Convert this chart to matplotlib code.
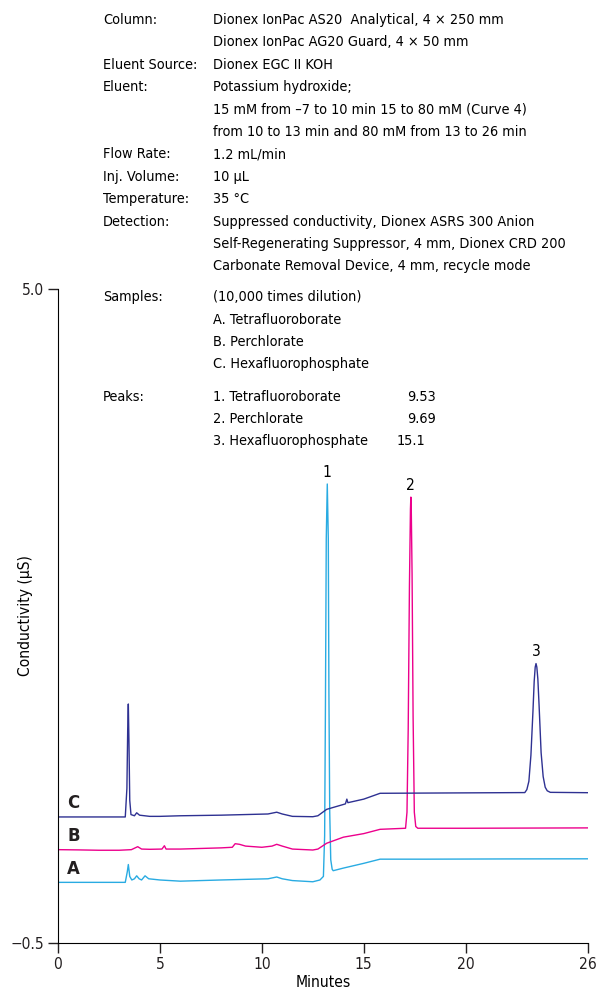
import matplotlib
matplotlib.use('Agg')
import matplotlib.pyplot as plt
from matplotlib import font_manager
from matplotlib.font_manager import FontProperties

# trace A (tetrafluoroborate), cyan
a_time = [0.0, 3.30, 3.40, 3.45, 3.52, 3.62, 3.75, 3.86, 3.98, 4.10, 4.27, 4.45,
          5.0, 6.0, 8.0, 10.3, 10.73, 11.0, 11.5, 12.5, 12.85, 13.02, 13.08,
          13.12, 13.16, 13.21, 13.26, 13.29, 13.33, 13.38, 13.45, 13.5, 14.0,
          15.0, 15.8, 18.0, 22.0, 26.0]
a_val = [0.01, 0.01, 0.10, 0.16, 0.06, 0.03, 0.04, 0.065, 0.04, 0.03, 0.065, 0.04,
         0.03, 0.02, 0.03, 0.04, 0.055, 0.04, 0.025, 0.015, 0.03, 0.06, 0.4,
         1.5, 2.9, 3.36, 2.9, 1.6, 0.6, 0.2, 0.12, 0.108, 0.13,
         0.17, 0.205, 0.205, 0.207, 0.208]

# trace B (perchlorate), magenta
b_time = [0.0, 1.0, 2.0, 3.0, 3.6, 3.91, 4.1, 4.5, 5.1, 5.22, 5.3, 6.0, 8.0,
          8.55, 8.69, 8.9, 9.2, 10.0, 10.5, 10.73, 11.0, 11.5, 12.5, 12.75,
          13.18, 14.0, 15.0, 15.8, 17.05, 17.12, 17.18, 17.24, 17.29, 17.31,
          17.33, 17.37, 17.42, 17.48, 17.55, 17.65, 20.0, 26.0]
b_val = [0.285, 0.283, 0.28, 0.28, 0.285, 0.31, 0.29, 0.288, 0.29, 0.318, 0.29,
         0.29, 0.30, 0.305, 0.335, 0.33, 0.315, 0.305, 0.315, 0.33, 0.315, 0.29,
         0.282, 0.29, 0.339, 0.39, 0.42, 0.456, 0.465, 0.6, 1.3, 2.5, 3.15, 3.25,
         3.15, 2.6, 1.4, 0.6, 0.48, 0.465, 0.465, 0.468]

# trace C (hexafluorophosphate), navy
c_time = [0.0, 3.30, 3.38, 3.42, 3.45, 3.48, 3.52, 3.58, 3.75, 3.86, 4.0, 4.5,
          5.0, 6.0, 8.0, 10.3, 10.73, 11.0, 11.5, 12.5, 12.75, 13.18, 14.1,
          14.17, 14.22, 15.0, 15.8, 22.9, 23.0, 23.1, 23.2, 23.3, 23.36, 23.41,
          23.45, 23.49, 23.54, 23.6, 23.7, 23.8, 23.9, 24.0, 24.15, 26.0]
c_val = [0.56, 0.56, 0.8, 1.3, 1.51, 1.2, 0.7, 0.58, 0.57, 0.595, 0.575, 0.565,
         0.565, 0.57, 0.575, 0.585, 0.6, 0.585, 0.565, 0.562, 0.57, 0.624, 0.67,
         0.71, 0.68, 0.71, 0.759, 0.765, 0.79, 0.86, 1.08, 1.45, 1.7, 1.82,
         1.85, 1.82, 1.72, 1.5, 1.1, 0.9, 0.81, 0.78, 0.767, 0.764]

peak_labels = ['1', '2', '3']
peak_pos = [(13.21, 3.36), (17.31, 3.25), (23.45, 1.85)]
trace_names = ['A', 'B', 'C']
trace_label_y = [0.12, 0.40, 0.68]

info_rows = [
    ('Column:', 'Dionex IonPac AS20  Analytical, 4 × 250 mm'),
    ('', 'Dionex IonPac AG20 Guard, 4 × 50 mm'),
    ('Eluent Source:', 'Dionex EGC II KOH'),
    ('Eluent:', 'Potassium hydroxide;'),
    ('', '15 mM from –7 to 10 min 15 to 80 mM (Curve 4)'),
    ('', 'from 10 to 13 min and 80 mM from 13 to 26 min'),
    ('Flow Rate:', '1.2 mL/min'),
    ('Inj. Volume:', '10 µL'),
    ('Temperature:', '35 °C'),
    ('Detection:', 'Suppressed conductivity, Dionex ASRS 300 Anion'),
    ('', 'Self-Regenerating Suppressor, 4 mm, Dionex CRD 200'),
    ('', 'Carbonate Removal Device, 4 mm, recycle mode'),
]
sample_rows = [
    ('Samples:', '(10,000 times dilution)', ''),
    ('', 'A. Tetrafluoroborate', ''),
    ('', 'B. Perchlorate', ''),
    ('', 'C. Hexafluorophosphate', ''),
    ('Peaks:', '1. Tetrafluoroborate', '9.53'),
    ('', '2. Perchlorate', '9.69'),
    ('', '3. Hexafluorophosphate', '15.1'),
]
sample_y_px = [297, 320, 342, 364, 397, 419, 441]
time_x_px = [0, 0, 0, 0, 407, 407, 397]


def find_narrow(bold=False):
    # look for any condensed / narrow face that happens to be installed
    for f in font_manager.fontManager.ttflist:
        narrow = ('Narrow' in f.name or 'Condensed' in f.name
                  or f.stretch in ('condensed', 'semi-condensed', 'extra-condensed'))
        if not narrow or f.style != 'normal':
            continue
        w = f.weight if isinstance(f.weight, int) else (700 if f.weight == 'bold' else 400)
        if (w >= 600) == bold:
            return f.fname
    return None


def main():
    reg = find_narrow(False)
    bld = find_narrow(True)
    if reg:
        base = 10.4
        fp = lambda s=base: FontProperties(fname=reg, size=s)
        fpb = lambda s: FontProperties(fname=bld, size=s) if bld else \
            FontProperties(fname=reg, size=s, weight='bold')
    else:
        base = 9.6
        fp = lambda s=base: FontProperties(family=['Roboto', 'DejaVu Sans'], size=s)
        fpb = lambda s: FontProperties(family=['Roboto', 'DejaVu Sans'], size=s,
                                       weight='bold')

    W, H = 610, 998
    fig = plt.figure(figsize=(W / 100, H / 100), dpi=100)
    ax = fig.add_axes([58 / W, 1 - 943 / H, 530 / W, 654 / H])

    ax.plot(a_time, a_val, color='#29abe2', lw=1.0)
    ax.plot(b_time, b_val, color='#ec008c', lw=1.0)
    ax.plot(c_time, c_val, color='#2e3192', lw=1.0)

    for lab, (t, v) in zip(peak_labels, peak_pos):
        ax.annotate(lab, (t, v), xytext=(0, 3), textcoords='offset points',
                    ha='center', va='bottom', fontproperties=fp(base + 0.8))
    for lab, y in zip(trace_names, trace_label_y):
        ax.text(0.45, y, lab, fontproperties=fpb(base + 2.8), ha='left',
                va='center', color='#231f20')

    ax.set_xlim(0, 26)
    ax.set_ylim(-0.5, 5.0)
    ax.set_xticks([0, 5, 10, 15, 20, 26])
    ax.set_yticks([-0.5, 5.0])
    ax.set_yticklabels(['\u22120.5', '5.0'])
    for t in ax.get_xticklabels() + ax.get_yticklabels():
        t.set_fontproperties(fp(base + 0.8))
    ax.spines['top'].set_visible(False)
    ax.spines['right'].set_visible(False)
    ax.tick_params(direction='out', length=7, width=1, colors='#231f20', pad=3)
    ax.set_xlabel('Minutes', fontproperties=fp(base + 0.8), labelpad=2)
    ax.set_ylabel('Conductivity (µS)', fontproperties=fp(base + 0.8))
    ax.yaxis.set_label_coords(-0.047, 0.5)

    # method text block
    for i, (k, v) in enumerate(info_rows):
        y = 1 - (20 + i * 22.4) / H
        fig.text(103 / W, y, k, fontproperties=fp(), va='center')
        fig.text(213 / W, y, v, fontproperties=fp(), va='center')
    for (k, v, n), ypx, xn in zip(sample_rows, sample_y_px, time_x_px):
        y = 1 - ypx / H
        fig.text(103 / W, y, k, fontproperties=fp(), va='center')
        fig.text(213 / W, y, v, fontproperties=fp(), va='center')
        if n:
            fig.text(xn / W, y, n, fontproperties=fp(), va='center')

    fig.savefig('out.png', dpi=100)


if __name__ == '__main__':
    main()
